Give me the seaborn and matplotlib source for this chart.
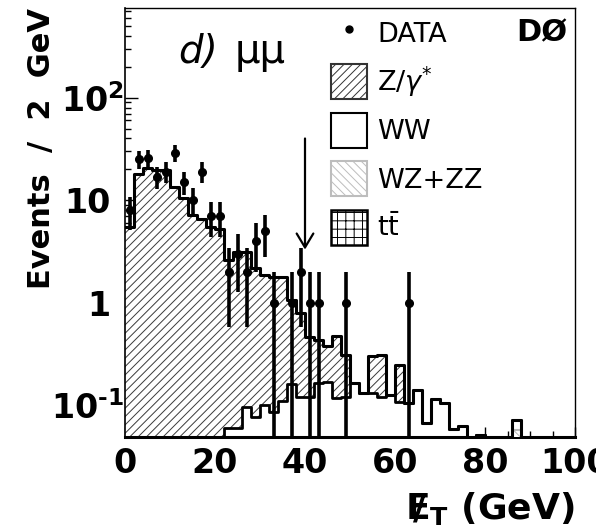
import numpy as np
import pandas as pd
import matplotlib
matplotlib.use("Agg")
import matplotlib.pyplot as plt
import seaborn as sns
from matplotlib.patches import Patch
from matplotlib.lines import Line2D
from matplotlib.ticker import LogLocator, NullFormatter, MultipleLocator, FixedLocator
from matplotlib.transforms import ScaledTranslation

sns.set_theme(style="ticks")
plt.rcParams["font.family"] = ["DejaVu Sans"]
plt.rcParams["mathtext.fontset"] = "dejavusans"
plt.rcParams["hatch.linewidth"] = 0.7
for key in ["text.color", "axes.labelcolor", "xtick.color", "ytick.color",
            "axes.edgecolor"]:
    plt.rcParams[key] = "black"

# Missing transverse energy, 2 GeV bins from 0 to 100 GeV
edges = np.arange(0, 101, 2)
centers = edges[:-1] + 1

# Expected events per bin for each process
z_gamma = [5.5, 18, 20.5, 19.5, 19.5, 13.5, 10.5, 7.1, 6.5, 5.5,
           5.2, 2.54, 3.04, 3.0, 2.11, 1.77, 1.71, 1.69, 0.91, 0.68,
           0.34, 0.27, 0.21, 0.36, 0.19, 0, 0, 0.17, 0.19, 0,
           0.14, 0, 0, 0, 0, 0, 0, 0, 0, 0,
           0, 0, 0, 0, 0, 0, 0, 0, 0, 0]
ww = [0, 0, 0, 0, 0, 0, 0, 0, 0, 0,
      0, 0.060, 0.060, 0.097, 0.077, 0.100, 0.085, 0.110, 0.160, 0.120,
      0.120, 0.166, 0.170, 0.117, 0.120, 0.166, 0.132, 0.132, 0.120, 0.126,
      0.107, 0.106, 0.142, 0.0675, 0.116, 0.106, 0.058, 0.063, 0, 0,
      0, 0, 0, 0.015, 0, 0, 0, 0, 0, 0]
wz_zz = [0] * 43 + [0.057] + [0] * 6
ttbar = [0] * 39 + [0.051] + [0] * 10

# Observed event counts per bin
data_counts = [8, 25, 26, 17, 19, 29, 15, 10, 19, 7,
               7, 2, 3, 2, 4, 5, 1, 0, 1, 2,
               1, 1, 0, 0, 1, 0, 0, 0, 0, 0,
               0, 1, 0, 0, 0, 0, 0, 0, 0, 0,
               0, 0, 0, 0, 0, 0, 0, 0, 0, 0]

x_ticks = [0, 20, 40, 60, 80, 100]
y_ticks = [0.1, 1, 10, 100]
y_tick_labels = ["$\\mathbf{10^{\u20101}}$", "1", "10", r"$\mathbf{10^{2}}$"]

# Stacked levels (bottom to top: WZ+ZZ, ttbar, WW, Z/gamma*)
lvl_wz = np.array(wz_zz)
lvl_tt = lvl_wz + np.array(ttbar)
lvl_ww = lvl_tt + np.array(ww)
lvl_tot = lvl_ww + np.array(z_gamma)
stack = pd.DataFrame({"met": centers.astype(float), "wz": lvl_wz, "tt": lvl_tt,
                      "ww": lvl_ww, "tot": lvl_tot})

fig = plt.figure(figsize=(5.96, 5.28), dpi=100)
ax = fig.add_axes([125 / 596, 1 - 437 / 528, 450 / 596, 429 / 528])

common = dict(data=stack, x="met", binwidth=2, binrange=(0, 100),
              element="step", ax=ax, alpha=1)
# Z/gamma* hatched area (top of stack)
sns.histplot(weights="tot", fill=True, facecolor="white", edgecolor="#3a3a3a",
             hatch="////", linewidth=0, zorder=1, **common)
# WW, white
sns.histplot(weights="ww", fill=True, facecolor="white", edgecolor="black",
             linewidth=2.0, zorder=2, **common)
# ttbar
sns.histplot(weights="tt", fill=True, facecolor="white", edgecolor="black",
             hatch="++", linewidth=2.0, zorder=3, **common)
# WZ+ZZ, light grey
sns.histplot(weights="wz", fill=True, facecolor="white", edgecolor="#b5b5b5",
             hatch="\\\\\\\\", linewidth=1.5, zorder=4, **common)
# Outline of the full stack
sns.histplot(weights="tot", fill=False, color="black", linewidth=2.2,
             zorder=5, **common)

# Data points with Poisson errors
counts = np.array(data_counts, dtype=float)
sel = counts > 0
err_up = np.sqrt(counts[sel])
err_dn = np.minimum(np.sqrt(counts[sel]), counts[sel] * 0.9999)
ax.errorbar(centers[sel], counts[sel], yerr=[err_dn, err_up], fmt="o",
            color="black", ms=5.5, elinewidth=2.6, capsize=0, zorder=6)

# Cut arrow at 40 GeV
ax.annotate("", xy=(40, 3.3), xytext=(40, 40),
            arrowprops=dict(arrowstyle="->,head_length=0.5,head_width=0.3",
                            lw=1.6, color="black", mutation_scale=20,
                            shrinkA=0, shrinkB=0), zorder=7)

ax.set_yscale("log")
ax.set_xlim(0, 100)
ax.set_ylim(0.049, 750)

ax.xaxis.set_major_locator(FixedLocator(x_ticks))
ax.xaxis.set_minor_locator(MultipleLocator(5))
ax.set_xticklabels([str(v) for v in x_ticks])
ax.yaxis.set_major_locator(FixedLocator(y_ticks))
ax.yaxis.set_minor_locator(LogLocator(base=10, subs=np.arange(2, 10)))
ax.yaxis.set_minor_formatter(NullFormatter())
ax.set_yticklabels(y_tick_labels)

ax.tick_params(axis="both", which="both", direction="in", color="black",
               labelsize=24, width=1.0)
ax.tick_params(axis="y", which="major", length=9.5, pad=1)
ax.tick_params(axis="y", which="minor", length=4.5)
ax.tick_params(axis="x", which="major", length=7, pad=7)
ax.tick_params(axis="x", which="minor", length=4.5)
for lab in ax.get_xticklabels() + ax.get_yticklabels():
    lab.set_fontweight("bold")
# plain integers end where the base of the powers of ten ends
shift = ScaledTranslation(-13 / 100, 0, fig.dpi_scale_trans)
for lab in ax.get_yticklabels():
    if lab.get_text() in ("1", "10"):
        lab.set_transform(lab.get_transform() + shift)

ax.spines["top"].set_linewidth(1.0)
ax.spines["right"].set_linewidth(1.0)
ax.spines["left"].set_linewidth(1.2)
ax.spines["bottom"].set_linewidth(2.2)

ax.set_ylabel("Events  /  2  GeV", fontsize=22, fontweight="bold")
ylab = ax.yaxis.label
ylab.set_rotation_mode("anchor")
ylab.set_ha("right")
ylab.set_va("baseline")
ax.yaxis.set_label_coords((50 - 125) / 450, 1.0)

ax.set_xlabel(r"$\mathbf{E}\!\!\!\mathbf{/}_{\,\mathbf{T}}$ (GeV)",
              fontsize=26, fontweight="bold")
xlab = ax.xaxis.label
xlab.set_ha("right")
xlab.set_va("baseline")
ax.xaxis.set_label_coords(1.0, -(519 - 437) / 429)

ax.text((178 - 125) / 450, 1 - (63 - 8) / 429, "d)", transform=ax.transAxes,
        fontsize=28, fontstyle="italic", ha="left", va="baseline")
ax.text((235 - 125) / 450, 1 - (63 - 8) / 429, "\u03bc\u03bc",
        transform=ax.transAxes, fontsize=29, ha="left", va="baseline")
ax.text((567 - 125) / 450, 1 - (33 - 8) / 429, "DØ", transform=ax.transAxes,
        fontsize=22, fontweight="bold", ha="right", va="center")

handles = [
    Line2D([], [], marker="o", color="black", linestyle="none", markersize=5),
    Patch(facecolor="white", edgecolor="#333333", hatch="////", linewidth=1.5),
    Patch(facecolor="white", edgecolor="black", linewidth=1.5),
    Patch(facecolor="white", edgecolor="#bdbdbd", hatch="\\\\\\\\", linewidth=1.5),
    Patch(facecolor="white", edgecolor="black", hatch="++", linewidth=1.8),
]
labels = ["DATA", r"Z/$\gamma^{*}$", "WW", "WZ+ZZ", r"t$\bar{\mathrm{t}}$"]
ax.legend(handles, labels, loc="upper left",
          bbox_to_anchor=((331 - 125) / 450, 1 - (15.5 - 8) / 429),
          frameon=False, fontsize=19.5, handlelength=1.33, handleheight=1.61,
          handletextpad=0.37, labelspacing=0.5, borderpad=0, borderaxespad=0)

fig.savefig("out.png", dpi=100)
